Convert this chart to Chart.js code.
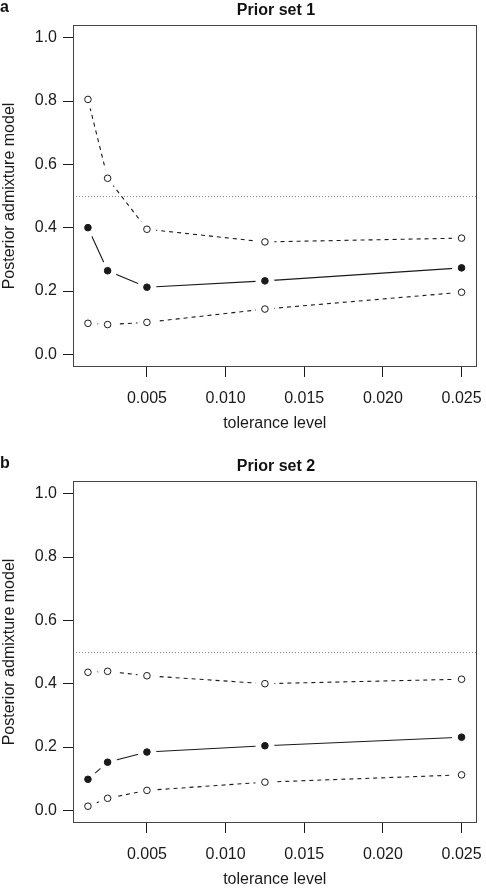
<!DOCTYPE html>
<html>
<head>
<meta charset="utf-8">
<script src="https://cdn.jsdelivr.net/npm/chart.js@4.4.0/dist/chart.umd.min.js"></script>
<style>
  html, body { margin: 0; padding: 0; background: #fff; overflow: hidden; }
  body { width: 486px; height: 892px; font-family: "Liberation Sans", Arial, sans-serif; color: #111; }
  .panel { position: relative; width: 486px; height: 456px; }
  .letter { position: absolute; left: 0; top: -3px; font-weight: bold; font-size: 16px; line-height: 20px; }
  .title { position: absolute; left: 73px; width: 406px; top: 0; text-align: center; font-weight: bold; font-size: 16px; line-height: 20px; }
  canvas { position: absolute; left: 0; top: 0; }
</style>
</head>
<body>
<div class="panel">
  <canvas id="chartA" width="486" height="456"></canvas>
  <div class="letter">a</div>
  <div class="title">Prior set 1</div>
</div>
<div class="panel">
  <canvas id="chartB" width="486" height="456"></canvas>
  <div class="letter">b</div>
  <div class="title">Prior set 2</div>
</div>
<script>
// tolerance levels (x)
const tolerance = [0.00125, 0.0025, 0.005, 0.0125, 0.025];

// Prior set 1
const upperA = [0.805, 0.556, 0.395, 0.355, 0.367];
const meanA  = [0.400, 0.264, 0.212, 0.232, 0.273];
const lowerA = [0.098, 0.094, 0.101, 0.143, 0.196];

// Prior set 2
const upperB = [0.436, 0.439, 0.425, 0.400, 0.414];
const meanB  = [0.098, 0.152, 0.184, 0.204, 0.231];
const lowerB = [0.013, 0.038, 0.063, 0.089, 0.112];

const xTicks = [0.005, 0.010, 0.015, 0.020, 0.025];
const yTicks = [0.0, 0.2, 0.4, 0.6, 0.8, 1.0];
const refLevel = 0.5;

const ink = "#1a1a1a";
const family = "'Liberation Sans', Arial, sans-serif";

// R-style 4% axis extension
const xMin = 0.0003, xMax = 0.02595;
const yMin = -0.04, yMax = 1.04;

const framePlugin = {
    id: "frame",
    beforeDatasetsDraw(chart) {
        const ctx = chart.ctx;
        const a = chart.chartArea;
        const yy = Math.round(chart.scales.y.getPixelForValue(refLevel)) + 0.5;
        ctx.save();
        ctx.strokeStyle = "#888";
        ctx.lineWidth = 1;
        ctx.setLineDash([1, 2]);
        ctx.beginPath();
        ctx.moveTo(a.left + 3, yy);
        ctx.lineTo(a.right, yy);
        ctx.stroke();
        ctx.setLineDash([]);
        ctx.strokeStyle = "#444";
        ctx.strokeRect(Math.round(a.left) + 0.5, Math.round(a.top) + 0.5,
            Math.round(a.right - a.left) - 1, Math.round(a.bottom - a.top) - 1);
        ctx.restore();
    }
};

function seriesSets(values, filled, dashed) {
    const pts = tolerance.map((t, i) => ({ x: t, y: values[i] }));
    return [
        // connecting line
        { data: pts, borderColor: ink, borderWidth: 1.1, borderDash: dashed ? [4, 4] : [],
          pointRadius: 0, fill: false, tension: 0, order: 3 },
        // white gap round each point (R type = "b")
        { data: pts, showLine: false, pointRadius: 9.5, pointBackgroundColor: "#fff",
          pointBorderColor: "#fff", pointBorderWidth: 0, order: 2 },
        // markers
        { data: pts, showLine: false, pointRadius: 3.3, pointBorderWidth: 1,
          pointBorderColor: ink, pointBackgroundColor: filled ? ink : "#fff", order: 1 }
    ];
}

function makeChart(id, upper, mean, lower) {
    const config = {
        type: "line",
        data: {
            datasets: [
                ...seriesSets(upper, false, true),
                ...seriesSets(mean, true, false),
                ...seriesSets(lower, false, true)
            ]
        },
        options: {
            responsive: false,
            animation: false,
            events: [],
            layout: { padding: { top: 25, left: 0, right: 7, bottom: 23 } },
            plugins: {
                legend: { display: false },
                title: { display: false },
                tooltip: { enabled: false }
            },
            scales: {
                x: {
                    type: "linear",
                    min: xMin,
                    max: xMax,
                    afterBuildTicks: s => { s.ticks = xTicks.map(v => ({ value: v })); },
                    afterFit: s => { s.height = 66; s.paddingLeft = 0; s.paddingRight = 0; },
                    grid: { drawOnChartArea: false, drawTicks: true, tickLength: 10, color: ink, lineWidth: 1 },
                    border: { display: false },
                    ticks: {
                        padding: 12, color: ink, autoSkip: false, maxRotation: 0,
                        font: { size: 16, family: family },
                        callback: v => v.toFixed(3)
                    },
                    title: {
                        display: true, text: "tolerance level", color: ink,
                        font: { size: 16, family: family }, padding: { top: 0, bottom: 0 }
                    }
                },
                y: {
                    type: "linear",
                    min: yMin,
                    max: yMax,
                    afterBuildTicks: s => { s.ticks = yTicks.map(v => ({ value: v })); },
                    afterFit: s => { s.width = 73; s.paddingTop = 0; s.paddingBottom = 0; },
                    grid: { drawOnChartArea: false, drawTicks: true, tickLength: 10, color: ink, lineWidth: 1 },
                    border: { display: false },
                    ticks: {
                        padding: 6, color: ink, autoSkip: false,
                        font: { size: 16, family: family },
                        callback: v => v.toFixed(1)
                    },
                    title: {
                        display: true, text: "Posterior admixture model", color: ink,
                        font: { size: 16, family: family }, padding: { top: 0, bottom: 0 }
                    }
                }
            }
        },
        plugins: [framePlugin]
    };
    return new Chart(document.getElementById(id), config);
}

makeChart("chartA", upperA, meanA, lowerA);
makeChart("chartB", upperB, meanB, lowerB);
</script>
</body>
</html>
